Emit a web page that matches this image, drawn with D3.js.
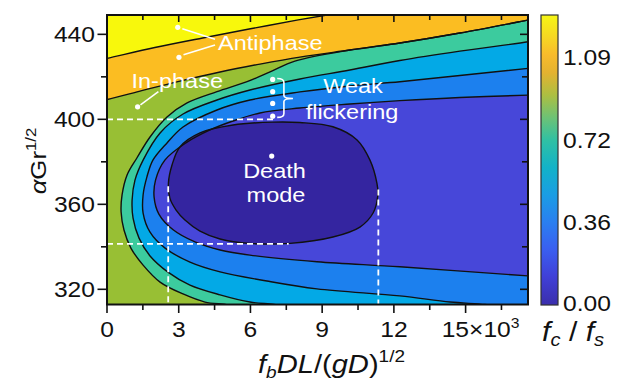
<!DOCTYPE html>
<html>
<head>
<meta charset="utf-8">
<script src="https://cdn.jsdelivr.net/npm/d3@7"></script>
<style>
  html, body { margin: 0; padding: 0; background: #fff; }
  svg { display: block; }
  text { font-family: "Liberation Sans", Arial, sans-serif; }
</style>
</head>
<body>
<svg id="chart" width="619" height="388"></svg>
<script>
// ticks
const xTicks = [0, 3, 6, 9, 12, 15];
const xMinorTicks = [1.5, 4.5, 7.5, 10.5, 13.5, 16.5];
const yTicks = [320, 360, 400, 440];
const yMinorTicks = [340, 380, 420];
const cbTicks = [0.00, 0.36, 0.72, 1.09];
const cbMinorTicks = [0.18, 0.54, 0.90];

// contour boundaries: [fbDL/(gD)^1/2 (x10^3), alphaGr^1/2]
const level7 = [[-0.5, 427.5], [0, 428.7], [2, 433.8], [4, 438.3], [6, 442.6], [8, 446.8], [9.2, 449.1], [9.8, 450.4]];
const level6 = [[-0.5, 408], [0, 409.3], [1.38, 413.3], [3.05, 418], [4.73, 422.3], [6.4, 426], [8.07, 429.3],
  [10.16, 432.6], [12.25, 435.9], [14.76, 440.6], [17.61, 446.7], [18.2, 448]];
const level5Own = [[5.3, 311.5], [5.06, 312.6], [4.1, 314.0], [3.18, 317.8], [2.22, 323.4], [1.51, 331.4], [1.0, 339.4],
  [0.71, 347.9], [0.59, 356.4], [0.63, 364.4], [0.84, 373.8], [1.25, 381.8], [1.8, 391.7], [2.51, 401.1],
  [3.35, 407.7], [4.6, 413.0], [5.86, 417.7], [6.82, 422.3], [7.86, 427.4]];
const level4 = [[7.4, 311.8], [7.0, 312.85], [5.98, 314.0], [4.73, 317.4], [3.47, 322.0], [2.55, 328.1], [1.8, 335.7],
  [1.34, 344.1], [1.09, 353.5], [1.05, 362.0], [1.17, 371.4], [1.51, 380.8], [2.22, 393.6], [3.18, 402.5],
  [4.6, 409.1], [5.98, 413.8], [8.07, 419.0], [10.16, 423.2], [12.25, 427.7], [14.76, 432.1], [17.61, 436.5], [18.2, 437.8]];
const level3 = [[16.4, 311.8], [15.81, 312.85], [14.35, 314.0], [12.25, 316.9], [8.78, 320.2], [6.69, 323.9],
  [4.73, 328.2], [3.47, 332.8], [2.43, 339.4], [1.8, 346.9], [1.51, 355.9], [1.51, 364.4], [1.67, 372.9],
  [1.92, 380.8], [2.51, 388.9], [3.18, 396.4], [4.6, 404.4], [5.98, 409.1], [8.07, 412.9], [10.16, 415.7],
  [12.25, 417.7], [14.76, 420.6], [17.61, 424.0], [18.2, 424.8]];
const level2 = [[18.2, 325.9], [17.61, 326.3], [12.25, 330.6], [8.78, 333.0], [5.98, 336.1], [4.73, 338.5],
  [3.68, 342.3], [2.78, 347.9], [2.17, 355.4], [1.97, 363.4], [2.03, 371.4], [2.42, 380.8], [3.3, 388.9],
  [4.31, 395.0], [5.27, 399.2], [6.4, 403.0], [8.07, 405.3], [10.16, 407.2], [12.25, 408.8], [14.76, 410.3],
  [17.61, 411.4], [18.2, 411.6]];
const level1 = [[2.57, 370.0], [2.72, 378.5], [3.05, 387.0], [3.89, 393.6], [5.27, 397.3], [6.94, 398.7],
  [8.07, 398.5], [9.45, 396.5], [10.46, 390.3], [11.0, 380.8], [11.29, 370.0], [11.33, 364.4], [11.13, 355.9],
  [10.58, 349.3], [9.45, 344.6], [7.65, 341.6], [5.98, 341.6], [4.73, 343.7], [3.89, 347.4], [3.26, 352.6],
  [2.89, 357.3], [2.63, 362.9]];
// green/teal line joins the orange line on the right
const level5 = level5Own.concat(level6.filter(p => p[0] >= 10));

// guides and markers
const guideLines = [
  [[0, 400], [7.1, 400]],
  [[0, 341.4], [7.6, 341.4]],
  [[2.56, 368.5], [2.56, 312.85]],
  [[11.35, 367], [11.35, 312.85]]
];
const antiphaseDots = [[2.96, 443.3], [3.01, 429.2]];
const inphaseDots = [[1.28, 405.9]];
const flickerDots = [[6.93, 418.8], [6.93, 413.0], [6.93, 407.5], [6.93, 401.5]];
const deathDots = [[6.89, 382.7]];

const svg = d3.select("#chart");
const x = d3.scaleLinear().domain([0, 17.61]).range([107, 528]);
const y = d3.scaleLinear().domain([312.85, 449.1]).range([304.5, 15]);
const cb = d3.scaleLinear().domain([-0.007, 1.275]).range([305, 15]);
const sx = 1.12; // text in the figure is a bit wide

const colors = ["#f8f80c", "#fbbd22", "#98bf34", "#3ccb9e", "#03a9e6", "#1c80ee", "#4747d9", "#3425a0"];

const defs = svg.append("defs");
defs.append("clipPath").attr("id", "plotClip")
  .append("rect").attr("x", 107).attr("y", 15).attr("width", 421).attr("height", 289.5);

const line = d3.line().x(d => x(d[0])).y(d => y(d[1])).curve(d3.curveCatmullRom.alpha(0.5));
const closedLine = d3.line().x(d => x(d[0])).y(d => y(d[1])).curve(d3.curveCatmullRomClosed.alpha(0.5));

function regionPath(curve, closing) {
  return line(curve) + closing.map(p => `L${x(p[0])},${y(p[1])}`).join("") + "Z";
}

const plot = svg.append("g").attr("clip-path", "url(#plotClip)");
plot.append("rect").attr("x", 107).attr("y", 15).attr("width", 421).attr("height", 289.5).attr("fill", colors[0]);

const regions = [
  { curve: level7, close: [[18.3, 451], [18.3, 310], [-1, 310]] },
  { curve: level6, close: [[18.3, 310], [-1, 310]] },
  { curve: level5, close: [[18.3, 310]] },
  { curve: level4, close: [[18.3, 310]] },
  { curve: level3, close: [[18.3, 310]] },
  { curve: level2, close: [] }
];
regions.forEach((r, i) => {
  plot.append("path").attr("d", regionPath(r.curve, r.close)).attr("fill", colors[i + 1]);
});
plot.append("path").attr("d", closedLine(level1)).attr("fill", colors[7]);

// contour lines
[level7, level6, level5, level4, level3, level2].forEach(c => {
  plot.append("path").attr("d", line(c)).attr("fill", "none").attr("stroke", "#111").attr("stroke-width", 1.4);
});
plot.append("path").attr("d", closedLine(level1)).attr("fill", "none").attr("stroke", "#111").attr("stroke-width", 1.4);

// dashed guides
guideLines.forEach(g => {
  plot.append("line")
    .attr("x1", x(g[0][0])).attr("y1", y(g[0][1]))
    .attr("x2", x(g[1][0])).attr("y2", y(g[1][1]))
    .attr("stroke", "#fff").attr("stroke-width", 1.8).attr("stroke-dasharray", "6,4");
});

// annotation lines and brace
const ann = svg.append("g").attr("stroke", "#fff").attr("stroke-width", 1.6).attr("fill", "none");
ann.append("line").attr("x1", x(3.15)).attr("y1", y(442.6)).attr("x2", x(4.52)).attr("y2", y(437.7));
ann.append("line").attr("x1", x(3.2)).attr("y1", y(430.4)).attr("x2", x(4.52)).attr("y2", y(435.0));
ann.append("line").attr("x1", x(1.4)).attr("y1", y(406.8)).attr("x2", x(2.15)).attr("y2", y(413.0));
{
  const b0 = x(7.12), b1 = x(7.4), b2 = x(7.78);
  const top = y(419.2), mid = y(409.8), bot = y(400.9);
  ann.append("path").attr("d",
    `M${b0},${top} Q${b1},${top} ${b1},${top + 4} L${b1},${mid - 3} Q${b1},${mid} ${b2},${mid}` +
    ` Q${b1},${mid} ${b1},${mid + 3} L${b1},${bot - 4} Q${b1},${bot} ${b0},${bot}`);
}

// dots
const dots = antiphaseDots.concat(inphaseDots, flickerDots, deathDots);
svg.append("g").selectAll("circle").data(dots).enter().append("circle")
  .attr("cx", d => x(d[0])).attr("cy", d => y(d[1])).attr("r", 2.6).attr("fill", "#fff");

// text helper: horizontally stretched text
function label(px, py, anchor, size, fill, parent) {
  return (parent || svg).append("g").attr("transform", `translate(${px},${py}) scale(${sx},1)`)
    .append("text").attr("text-anchor", anchor).style("font-size", size + "px").attr("fill", fill || "#111");
}

label(218, 49.5, "start", 21, "#fff").text("Antiphase");
label(131.5, 87.5, "start", 21, "#fff").text("In-phase");
label(353, 93, "middle", 21, "#fff").text("Weak");
label(352, 118.5, "middle", 21, "#fff").text("flickering");
label(274.5, 178, "middle", 21, "#fff").text("Death");
label(276, 202, "middle", 21, "#fff").text("mode");

// frame
svg.append("rect").attr("x", 107).attr("y", 15).attr("width", 421).attr("height", 289.5)
  .attr("fill", "none").attr("stroke", "#111").attr("stroke-width", 2);

const ticks = svg.append("g").attr("stroke", "#111").attr("stroke-width", 1.6);
xTicks.forEach(t => {
  ticks.append("line").attr("x1", x(t)).attr("x2", x(t)).attr("y1", 304.5).attr("y2", 313);
  ticks.append("line").attr("x1", x(t)).attr("x2", x(t)).attr("y1", 15).attr("y2", 22);
});
xMinorTicks.forEach(t => {
  ticks.append("line").attr("x1", x(t)).attr("x2", x(t)).attr("y1", 304.5).attr("y2", 310);
  ticks.append("line").attr("x1", x(t)).attr("x2", x(t)).attr("y1", 15).attr("y2", 20);
});
yTicks.forEach(t => {
  ticks.append("line").attr("y1", y(t)).attr("y2", y(t)).attr("x1", 97.5).attr("x2", 107);
  ticks.append("line").attr("y1", y(t)).attr("y2", y(t)).attr("x1", 520).attr("x2", 528);
});
yMinorTicks.forEach(t => {
  ticks.append("line").attr("y1", y(t)).attr("y2", y(t)).attr("x1", 101).attr("x2", 107);
  ticks.append("line").attr("y1", y(t)).attr("y2", y(t)).attr("x1", 522).attr("x2", 528);
});

xTicks.forEach(t => {
  if (t === 15) {
    const tx = label(x(t) + 15, 336.5, "middle", 22);
    tx.append("tspan").text("15×10");
    tx.append("tspan").attr("dy", -9).style("font-size", "14px").text("3");
  } else {
    label(x(t), 336.5, "middle", 22).text(t);
  }
});
yTicks.forEach(t => {
  label(95, y(t) + 7.8, "end", 22).text(t);
});

// axis titles
{
  const t = svg.append("g").attr("transform", "translate(46,161) rotate(-90) scale(1.12,1)")
    .append("text").attr("text-anchor", "middle").style("font-size", "23px").attr("fill", "#111");
  t.append("tspan").style("font-style", "italic").text("α");
  t.append("tspan").text("Gr");
  t.append("tspan").attr("dy", -10).style("font-size", "15px").text("1/2");
}
{
  const t = label(258, 373, "start", 26);
  t.append("tspan").style("font-style", "italic").text("f");
  t.append("tspan").attr("dy", 5).style("font-style", "italic").style("font-size", "17px").text("b");
  t.append("tspan").attr("dy", -5).style("font-style", "italic").text("DL");
  t.append("tspan").text("/(");
  t.append("tspan").style("font-style", "italic").text("gD");
  t.append("tspan").text(")");
  t.append("tspan").attr("dy", -11).style("font-size", "17px").text("1/2");
}

// colour bar
const grad = defs.append("linearGradient").attr("id", "cbGrad")
  .attr("x1", 0).attr("y1", 1).attr("x2", 0).attr("y2", 0);
const cbStops = [[0.00, "#3b2fae"], [0.12, "#4040d8"], [0.24, "#3a5ff0"], [0.36, "#2a7ff0"], [0.48, "#1a9de4"],
  [0.60, "#12b2c8"], [0.72, "#2fc0a4"], [0.82, "#6cc276"], [0.92, "#acbf42"], [1.02, "#e4b230"],
  [1.10, "#f8bb2c"], [1.18, "#f6d822"], [1.275, "#f6f614"]];
cbStops.forEach(s => {
  grad.append("stop").attr("offset", (s[0] + 0.007) / 1.282).attr("stop-color", s[1]);
});
svg.append("rect").attr("x", 541).attr("y", 15).attr("width", 17).attr("height", 290)
  .attr("fill", "url(#cbGrad)").attr("stroke", "#333").attr("stroke-width", 1.2);
cbTicks.forEach(t => {
  ticks.append("line").attr("x1", 552).attr("x2", 558).attr("y1", cb(t)).attr("y2", cb(t));
  label(563, cb(t) + 7.8, "start", 22).text(t.toFixed(2));
});
cbMinorTicks.forEach(t => {
  ticks.append("line").attr("x1", 554).attr("x2", 558).attr("y1", cb(t)).attr("y2", cb(t));
});
{
  const t = label(542, 341, "start", 27);
  t.append("tspan").style("font-style", "italic").text("f");
  t.append("tspan").attr("dy", 5).style("font-style", "italic").style("font-size", "18px").text("c");
  t.append("tspan").attr("dy", -5).text(" / ");
  t.append("tspan").style("font-style", "italic").text("f");
  t.append("tspan").attr("dy", 5).style("font-style", "italic").style("font-size", "18px").text("s");
}
</script>
</body>
</html>
